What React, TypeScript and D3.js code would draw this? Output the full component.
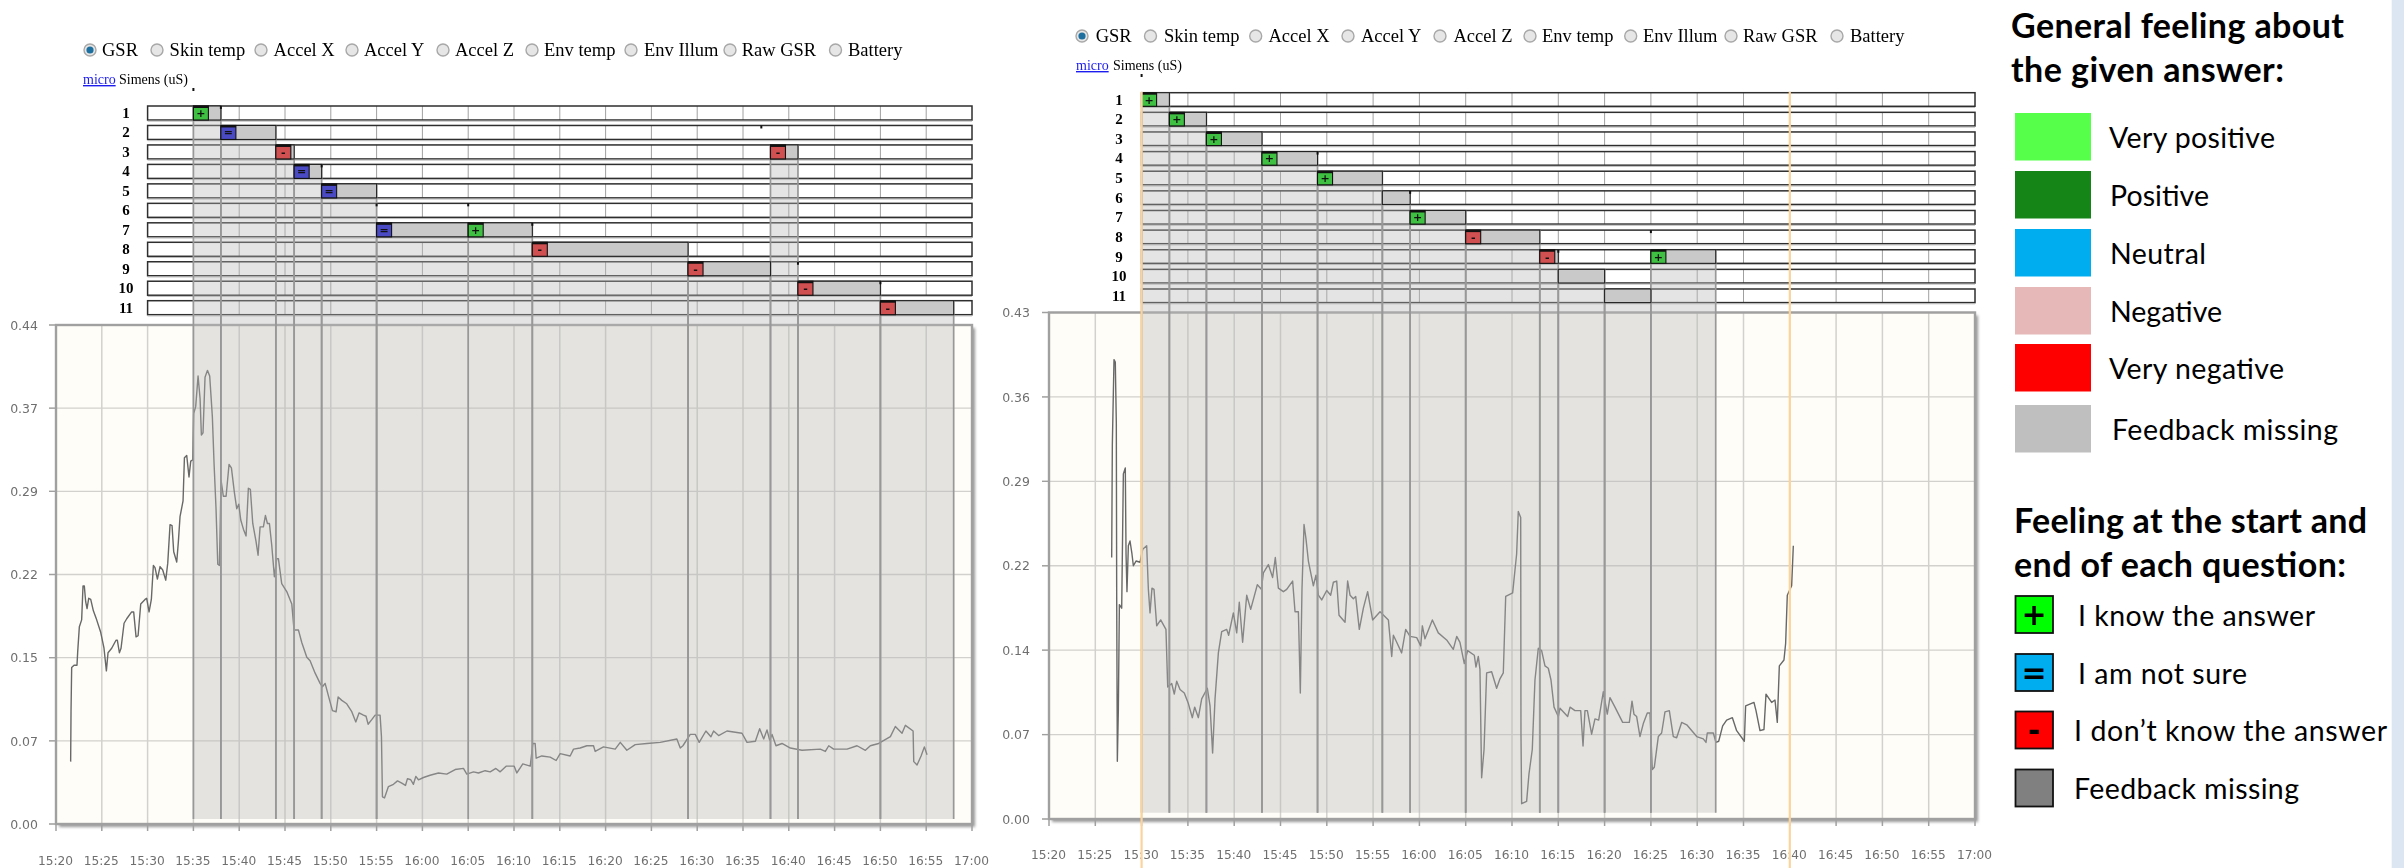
import React from "react";
import * as d3 from "d3";

// Minutes after 15:20 and GSR value
const gsrLeft: [number, number][] = [
[1.6,.055],[1.64,.099],[1.71,.138],[1.97,.14],[2.29,.14],[2.37,.152],[2.55,.174],[2.8,.18],[2.95,.21],[3.09,.21],[3.24,.196],[3.39,.19],[3.57,.199],[3.79,.198],[4.08,.188],[4.44,.18],[4.88,.169],[5.24,.155],[5.5,.135],[5.68,.151],[6.08,.155],[6.55,.162],[6.7,.162],[6.92,.151],[7.1,.155],[7.43,.177],[7.72,.181],[8.26,.187],[8.48,.187],[8.74,.165],[8.96,.166],[9.25,.194],[9.72,.198],[9.9,.199],[10.16,.187],[10.41,.198],[10.63,.228],[10.81,.226],[11.07,.216],[11.36,.227],[11.65,.224],[11.98,.215],[12.2,.23],[12.45,.264],[12.67,.263],[12.85,.24],[13.18,.231],[13.36,.249],[13.54,.271],[13.87,.285],[14.02,.323],[14.27,.325],[14.52,.306],[14.71,.32],[14.93,.321],[15.03,.362],[15.25,.368],[15.51,.395],[15.73,.375],[15.87,.343],[16.05,.345],[16.27,.394],[16.53,.4],[16.78,.395],[17.07,.359],[17.26,.317],[17.47,.278],[17.66,.229],[17.84,.228],[18.02,.303],[18.27,.289],[18.57,.289],[18.89,.317],[19.15,.314],[19.48,.292],[19.73,.278],[19.95,.282],[20.17,.268],[20.46,.26],[20.75,.254],[21,.296],[21.22,.295],[21.48,.265],[21.84,.249],[22.06,.237],[22.28,.262],[22.64,.262],[22.86,.272],[23.08,.265],[23.3,.265],[23.55,.246],[23.84,.218],[24.1,.234],[24.28,.234],[24.64,.212],[25.19,.205],[25.74,.194],[25.99,.171],[26.47,.171],[26.83,.16],[27.38,.147],[27.74,.144],[28.29,.133],[28.83,.124],[29.09,.121],[29.38,.124],[29.74,.113],[30.18,.1],[30.58,.099],[30.8,.112],[31.2,.109],[31.74,.106],[32.29,.099],[32.73,.09],[33.09,.098],[33.56,.096],[33.85,.095],[34.07,.088],[34.47,.092],[34.84,.096],[35.38,.096],[35.53,.077],[35.64,.024],[35.86,.023],[36.29,.033],[36.84,.035],[37.28,.038],[37.75,.036],[38.15,.034],[38.37,.04],[38.73,.039],[39.02,.035],[39.28,.042],[39.57,.039],[40.12,.041],[40.84,.043],[41.75,.045],[42.66,.044],[43.57,.048],[44.48,.049],[44.85,.044],[45.58,.046],[46.12,.045],[46.85,.047],[47.4,.046],[48.02,.049],[48.49,.046],
[49.14,.051],[50.02,.051],[50.31,.045],[50.96,.053],[51.77,.051],[52.06,.071],[52.31,.071],[52.42,.058],[53.04,.06],[53.95,.059],[54.6,.056],[55.04,.062],[56.13,.06],[56.5,.066],[57.22,.067],[57.95,.069],[58.68,.069],[58.86,.064],[59.77,.068],[61.05,.066],[61.6,.072],[62.32,.065],[63.23,.07],[64.51,.071],[65.96,.072],[67.78,.075],[68.15,.067],[68.44,.069],[69.24,.079],[69.79,.079],[70.22,.072],[70.95,.082],[71.5,.077],[71.79,.082],[72.34,.078],[73.25,.082],[74.89,.08],[75.44,.072],[76.35,.073],[76.82,.084],[77.26,.075],[77.62,.083],[77.91,.074],[78.17,.079],[78.6,.069],[79.26,.071],[80.17,.067],[81.44,.065],[83.44,.066],[83.99,.064],[84.36,.069],[84.9,.066],[86.36,.066],[87.45,.069],[88.36,.065],[88.9,.069],[89.81,.071],[91.09,.077],[91.63,.086],[92.36,.08],[92.73,.087],[93.57,.082],[93.64,.055],[94,.052],[94.44,.06],[94.8,.068],[95.09,.061]];

const gsrRight: [number, number][] = [
[6.77,.222],[6.84,.318],[7.02,.39],[7.16,.388],[7.27,.336],[7.31,.189],[7.38,.049],[7.49,.093],[7.6,.182],[7.85,.179],[8.03,.293],[8.24,.298],[8.32,.225],[8.42,.193],[8.57,.232],[8.75,.236],[8.96,.225],[9.11,.215],[9.4,.219],[9.83,.218],[10.12,.229],[10.55,.232],[10.73,.195],[10.91,.175],[11.12,.196],[11.34,.195],[11.63,.164],[12.06,.169],[12.63,.161],[12.82,.112],[13.25,.115],[13.53,.106],[13.79,.117],[14.15,.11],[14.61,.107],[15.05,.098],[15.48,.086],[15.73,.095],[16.13,.086],[16.49,.102],[17.1,.111],[17.39,.096],[17.67,.056],[17.93,.102],[18.29,.141],[18.65,.159],[19.19,.161],[19.4,.156],[19.91,.175],[20.27,.158],[20.55,.184],[20.91,.15],[21.35,.19],[21.78,.178],[22.5,.199],[22.93,.195],[23.15,.209],[23.69,.216],[24.15,.205],[24.44,.222],[24.77,.196],[25.31,.193],[25.67,.195],[26.31,.202],[26.57,.176],[26.93,.176],[27.14,.107],[27.32,.195],[27.54,.25],[27.75,.238],[28.01,.219],[28.55,.198],[28.83,.207],[29.09,.19],[29.45,.186],[29.99,.194],[30.42,.19],[30.71,.201],[31.07,.202],[31.32,.173],[31.97,.167],[32.25,.202],[32.51,.19],[32.87,.187],[33.12,.189],[33.51,.161],[33.95,.179],[34.41,.193],[34.95,.169],[35.75,.176],[36.65,.169],[37.01,.138],[37.19,.156],[37.55,.15],[38.08,.141],[38.52,.161],[38.99,.155],[39.71,.154],[40.14,.147],[40.32,.164],[40.6,.153],[41.4,.169],[42.04,.158],[42.94,.152],[43.66,.144],[44.03,.155],[44.38,.15],[44.85,.132],[45.21,.143],[45.93,.139],[46.11,.129],[46.36,.138],[46.54,.127],[46.72,.035],[46.98,.059],[47.26,.124],[47.8,.125],[48.34,.111],[48.7,.119],
[49.06,.124],[49.32,.189],[50.07,.192],[50.5,.225],[50.68,.261],[50.94,.256],[50.97,.072],[51.04,.013],[51.58,.015],[51.83,.038],[52.19,.059],[52.48,.118],[52.84,.145],[53.2,.143],[53.56,.13],[53.92,.128],[54.21,.118],[54.54,.095],[55,.087],[55.18,.094],[56.01,.087],[56.27,.095],[56.8,.092],[57.42,.092],[57.67,.062],[57.88,.092],[58.14,.092],[58.6,.072],[58.96,.085],[59.36,.084],[59.86,.108],[60.29,.089],[60.58,.103],[61.12,.095],[61.95,.082],[62.67,.082],[62.96,.1],[63.17,.089],[63.46,.087],[63.82,.07],[64.18,.081],[64.61,.09],[64.9,.09],[65.15,.042],[65.37,.044],[65.8,.07],[66.16,.073],[66.52,.091],[66.99,.092],[67.42,.07],[67.78,.069],[68.32,.082],[68.87,.08],[69.95,.07],[70.66,.068],[70.95,.065],[71.09,.073],[71.74,.073],[72.03,.065],[72.32,.066],[72.75,.079],[73.18,.084],[73.8,.086],[74.26,.075],[75.09,.066],[75.23,.096],[76.13,.099],[76.35,.092],[76.78,.075],[77.21,.076],[77.43,.106],[78.04,.099],[78.4,.101],[78.65,.082],[78.87,.13],[79.37,.135],[79.55,.149],[79.73,.19],[80.2,.198],[80.38,.232]];

const questionRows = ["1","2","3","4","5","6","7","8","9","10","11"];
// [row index, start minute, end minute, start feeling]
type Seg = [number, number, number, string];
const segmentsLeft: Seg[] = [
  [0,15,18,"+"],[1,18,24,"="],[2,24,26,"-"],[2,78,81,"-"],[3,26,29,"="],[4,29,35,"="],
  [6,35,45,"="],[6,45,52,"+"],[7,52,69,"-"],[8,69,78,"-"],[9,81,90,"-"],[10,90,98,"-"],
];
const segmentsRight: Seg[] = [
  [0,10,13,"+"],[1,13,17,"+"],[2,17,23,"+"],[3,23,29,"+"],[4,29,36,"+"],[5,36,39,""],
  [6,39,45,"+"],[7,45,53,"-"],[8,53,55,"-"],[8,65,72,"+"],[9,55,60,""],[10,60,65,""],
];
// [row index, minute] of the tiny black specks
const specksLeft: [number, number][] = [[-1,15],[0,18],[1,77],[3,29],[5,35],[5,45],[6,52],[8,81],[9,90]];
const specksRight: [number, number][] = [[-1,10],[3,29],[5,39],[7,65],[8,55]];

const timeLabels = ["15:20","15:25","15:30","15:35","15:40","15:45","15:50","15:55","16:00","16:05","16:10","16:15","16:20","16:25","16:30","16:35","16:40","16:45","16:50","16:55","17:00"];
const yLabelsLeft = ["0.00","0.07","0.15","0.22","0.29","0.37","0.44"];
const yLabelsRight = ["0.00","0.07","0.14","0.22","0.29","0.36","0.43"];
const radioLabels = ["GSR","Skin temp","Accel X","Accel Y","Accel Z","Env temp","Env Illum","Raw GSR","Battery"];
const answerLegend = ["Very positive","Positive","Neutral","Negative","Very negative","Feedback missing"];
const answerColors = ["#55ff4a","#168518","#00aef0","#e6b8b7","#ff0000","#bfbfbf"];
const startLegend = ["I know the answer","I am not sure","I don\u2019t know the answer","Feedback missing"];
const startColors = ["#00ff00","#00aef0","#ff0000","#808080"];
const startSymbols = ["+","=","-",""];
const markColors: Record<string,string> = {"+":"#3fc043","=":"#4a4ac4","-":"#d04f50"};

type PanelProps = {
  left:number; right:number; top:number; bottom:number; yMax:number; yLabels:string[];
  data:[number,number][]; segs:Seg[]; specks:[number,number][];
  rowTop:number; rowPitch:number; rowH:number; bandBottom:number; rowLabelX:number; yLabelX:number; xLabelY:number;
  radioY:number; radioXs:number[]; radioTextXs:number[]; microX:number; simensX:number; microY:number; orange?:number[];
};

function Panel(p:PanelProps){
  const x = d3.scaleLinear().domain([0,100]).range([p.left,p.right]);
  const y = d3.scaleLinear().domain([0,p.yMax]).range([p.bottom,p.top]);
  const line = d3.line<[number,number]>().x(d=>x(d[0])).y(d=>y(d[1]));
  const rowY = (i:number)=>p.rowTop+i*p.rowPitch;
  const yTicks = p.yLabels.map((_,i)=>i*p.yMax/6);
  const xTicks = timeLabels.map((_,i)=>i*5);
  const ends = Array.from(new Set(p.segs.flatMap(s=>[[s[0],s[1]],[s[0],s[2]]].map(a=>a.join("|")))));
  return <g filter="url(#screenshot)">
    {radioLabels.map((t,i)=><g key={t}>
      <circle cx={p.radioXs[i]} cy={p.radioY} r={6} fill="#e6e6e6" stroke="#a8a8a8" strokeWidth={1.4}/>
      {i===0 && <circle cx={p.radioXs[i]} cy={p.radioY} r={3.6} fill="#1d6f9f"/>}
      <text x={p.radioTextXs[i]} y={p.radioY+6} fontFamily="Liberation Serif" fontSize={18.5} fill="#000">{t}</text>
    </g>)}
    <text x={p.microX} y={p.microY+5} fontFamily="Liberation Serif" fontSize={14} fill="#1c1cee" textDecoration="underline">micro</text>
    <text x={p.simensX} y={p.microY+5} fontFamily="Liberation Serif" fontSize={14} fill="#000">Simens (uS)</text>

    <rect x={p.left+3} y={p.top+3} width={p.right-p.left} height={p.bottom-p.top} fill="#999" filter="url(#soft)"/>
    <rect x={p.left} y={p.top} width={p.right-p.left} height={p.bottom-p.top} fill="#fffdf7"/>
    {yTicks.map((v,i)=><line key={i} x1={p.left-7} x2={p.right} y1={y(v)} y2={y(v)} stroke="#d2d1cd" strokeWidth={1.3}/>)}
    {xTicks.map(t=><line key={t} x1={x(t)} x2={x(t)} y1={p.top} y2={p.bottom} stroke="#d2d1cd" strokeWidth={1.5}/>)}
    {yTicks.map((v,i)=><line key={i} x1={p.left-7} x2={p.left} y1={y(v)} y2={y(v)} stroke="#a0a0a0" strokeWidth={1.3}/>)}
    {xTicks.map(t=><line key={t} x1={x(t)} x2={x(t)} y1={p.bottom} y2={p.bottom+7} stroke="#a0a0a0" strokeWidth={1.5}/>)}
    <rect x={p.left} y={p.top} width={p.right-p.left} height={p.bottom-p.top} fill="none" stroke="#a0a0a0" strokeWidth={2.4}/>
    <path d={line(p.data)||""} fill="none" stroke="#686868" strokeWidth={1.4} strokeLinejoin="round"/>
    {p.yLabels.map((t,i)=><text key={t} x={p.yLabelX} y={y(yTicks[i])+4.7} textAnchor="end" fontFamily="DejaVu Sans" fontSize={12.5} fill="#6f6f6f">{t}</text>)}
    {timeLabels.map((t,i)=><text key={t} x={x(i*5)-0.5} y={p.xLabelY+4.5} textAnchor="middle" fontFamily="DejaVu Sans" fontSize={12.2} fill="#6f6f6f">{t}</text>)}

    {questionRows.map((q,i)=><g key={q}>
      <rect x={x(10)} y={rowY(i)} width={x(100)-x(10)} height={p.rowH} fill="#fff"/>
      {xTicks.filter(t=>t>10&&t<100).map(t=><line key={t} x1={x(t)} x2={x(t)} y1={rowY(i)} y2={rowY(i)+p.rowH} stroke="#a0a0a0" strokeWidth={1}/>)}
      <rect x={x(10)} y={rowY(i)} width={x(100)-x(10)} height={p.rowH} fill="none" stroke="#2e2e2e" strokeWidth={1.5}/>
      <line x1={x(10)} x2={x(100)} y1={rowY(i)+p.rowH+1.2} y2={rowY(i)+p.rowH+1.2} stroke="#bbb" strokeWidth={1}/>
      <text x={p.rowLabelX} y={rowY(i)+p.rowH/2+5} textAnchor="middle" fontFamily="Liberation Serif" fontWeight="bold" fontSize={15} fill="#000">{q}</text>
    </g>)}

    {p.segs.map((s,i)=><rect key={i} x={x(s[1])} y={rowY(s[0])} width={x(s[2])-x(s[1])} height={p.bandBottom-rowY(s[0])} fill="rgb(183,183,183)" fillOpacity={0.375}/>)}
    {ends.map(k=>{const [r,t]=k.split("|").map(Number);return <line key={k} x1={x(t)} x2={x(t)} y1={rowY(r)} y2={p.bandBottom} stroke="#989898" strokeWidth={1.7}/>;})}

    {p.segs.map((s,i)=><g key={i}>
      <rect x={x(s[1])} y={rowY(s[0])} width={x(s[2])-x(s[1])} height={p.rowH} fill="#c9c9c9" stroke="#222" strokeWidth={1.1}/>
      {s[3] && <g>
        <rect x={x(s[1])} y={rowY(s[0])} width={15} height={p.rowH} fill={markColors[s[3]]} stroke="#111" strokeWidth={1.1}/>
        <rect x={x(s[1])} y={rowY(s[0])} width={15} height={2} fill="#111"/>
        <text x={x(s[1])+7.5} y={rowY(s[0])+p.rowH/2+4} textAnchor="middle" fontFamily="DejaVu Sans" fontWeight="bold" fontSize={11} fill="#111">{s[3]}</text>
      </g>}
    </g>)}
    {p.specks.map((s,i)=><rect key={i} x={x(s[1])-1} y={s[0]<0?p.microY+9:rowY(s[0])} width={2} height={3} fill="#111"/>)}
    {(p.orange||[]).map(t=><line key={t} x1={x(t)} x2={x(t)} y1={p.rowTop-1} y2={868} stroke="#fbd49c" strokeWidth={2.2}/>)}
  </g>;
}

export default function App(){
  const swatchY = [113,171,229,287,344,405];
  const swatchTextX = [2109,2110,2110,2110,2109,2112];
  const swatchTextW = [166,99,96,112,175,226];
  const iconY = [596,654,711.5,769.5];
  const iconTextX = [2078,2078,2074,2074];
  const iconTextW = [237,169,313,225];
  return <svg width={2404} height={868} viewBox="0 0 2404 868" style={{position:"absolute",left:0,top:0,display:"block",background:"#fff"}}>
    <defs>
      <filter id="soft" x="-2%" y="-2%" width="104%" height="104%"><feGaussianBlur stdDeviation="1.6"/></filter>
      <filter id="screenshot" x="-1%" y="-1%" width="102%" height="102%" colorInterpolationFilters="sRGB"><feGaussianBlur stdDeviation="0.4"/></filter>
    </defs>
    <rect width={2404} height={868} fill="#fff"/>
    <Panel left={56} right={972} top={325} bottom={824} yMax={0.44} yLabels={yLabelsLeft} data={gsrLeft} segs={segmentsLeft} specks={specksLeft}
      rowTop={106} rowPitch={19.47} rowH={14} bandBottom={819} rowLabelX={126} yLabelX={38} xLabelY={860}
      radioY={50} radioXs={[90,157,261,352,443,532,631,730,835.5]} radioTextXs={[102,169.6,273.6,364,455,544,644,741.7,848]}
      microX={83} simensX={119} microY={79}/>
    <Panel left={1049} right={1975} top={312.5} bottom={819} yMax={0.43} yLabels={yLabelsRight} data={gsrRight} segs={segmentsRight} specks={specksRight}
      rowTop={92.7} rowPitch={19.63} rowH={13.6} bandBottom={812.7} rowLabelX={1119} yLabelX={1030} xLabelY={854}
      radioY={36} radioXs={[1082,1150.5,1255.7,1348,1440,1530,1630.7,1731,1837]} radioTextXs={[1095.7,1164,1268.5,1361,1453.4,1542,1643,1743,1850]}
      microX={1076} simensX={1113} microY={65} orange={[10,80]}/>

    <rect x={2391.7} y={0} width={12.3} height={868} fill="#dce6f2"/>
    <g fontFamily="Lato" fill="#000">
      <text x={2011} y={38} fontWeight="bold" fontSize={34} textLength={333}>General feeling about</text>
      <text x={2011} y={82} fontWeight="bold" fontSize={34} textLength={273}>the given answer:</text>
      {answerLegend.map((t,i)=><g key={t}>
        <rect x={2015} y={swatchY[i]} width={76} height={47.5} fill={answerColors[i]}/>
        <text x={swatchTextX[i]} y={swatchY[i]+35} fontSize={28.5} textLength={swatchTextW[i]}>{t}</text>
      </g>)}
      <text x={2014} y={533} fontWeight="bold" fontSize={34} textLength={353}>Feeling at the start and</text>
      <text x={2014} y={577} fontWeight="bold" fontSize={34} textLength={332}>end of each question:</text>
      {startLegend.map((t,i)=><g key={i}>
        <rect x={2015.5} y={iconY[i]} width={37.5} height={37} fill={startColors[i]} stroke="#111" strokeWidth={1.8}/>
        {startSymbols[i] && <text x={2034} y={iconY[i]+29} textAnchor="middle" fontFamily="DejaVu Sans" fontWeight="bold" fontSize={30} fill="#000">{startSymbols[i]}</text>}
        <text x={iconTextX[i]} y={iconY[i]+29.5} fontSize={28.5} textLength={iconTextW[i]}>{t}</text>
      </g>)}
    </g>
  </svg>;
}
